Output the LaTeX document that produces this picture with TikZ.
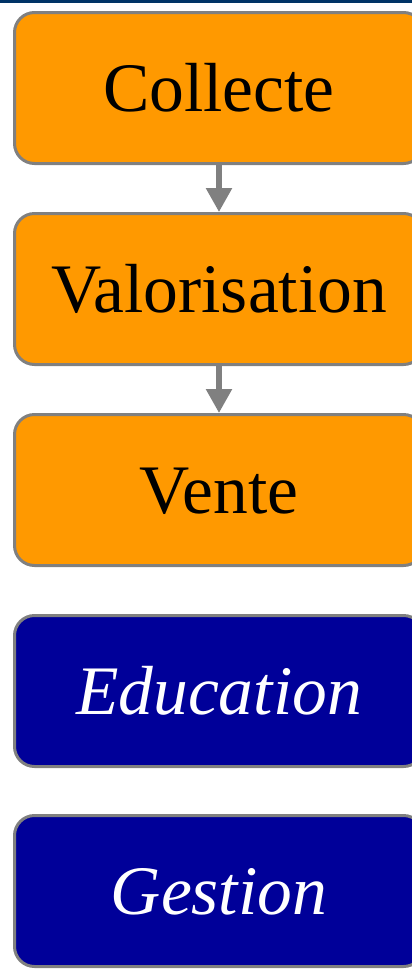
\documentclass[tikz,border=0pt]{standalone}
\usepackage{fontspec}
\setmainfont{Liberation Serif}
\usetikzlibrary{arrows.meta}
\definecolor{bordgris}{HTML}{808080}
\definecolor{orangeetape}{HTML}{FF9900}
\definecolor{bleuaxe}{HTML}{000099}
\definecolor{bandeau}{HTML}{003366}
\newcommand{\grand}{\fontsize{69.5}{80}\selectfont}

\begin{document}
\begin{tikzpicture}[x=1pt,y=1pt,
    boite/.style={draw=bordgris, line width=3pt, rounded corners=20pt,
      minimum width=409pt, minimum height=151pt, inner sep=0pt,
      text height=46pt, text depth=0pt, font=\grand},
    etape/.style={boite, fill=orangeetape, text=black},
    axe/.style={boite, fill=bleuaxe, text=white, font=\grand\itshape},
    fleche/.style={draw=bordgris, line width=5.5pt, -{Triangle[width=25pt,length=24pt]}}]
    \useasboundingbox (0,0) rectangle (412,-970);
    \fill[bandeau] (0,0) rectangle (412,-3);
    \node[etape] (Col) at (219,-88) {Collecte};
    \node[etape] (Val) at (219,-289) {Valorisation};
    \node[etape] (Ven) at (219,-490) {Vente};
    \node[axe] (Edu) at (219,-691) {Education};
    \node[axe] (Ges) at (219,-891) {Gestion};
    \path (Col) edge[fleche] (Val);
    \path (Val) edge[fleche] (Ven);
  \end{tikzpicture}
\end{document}
